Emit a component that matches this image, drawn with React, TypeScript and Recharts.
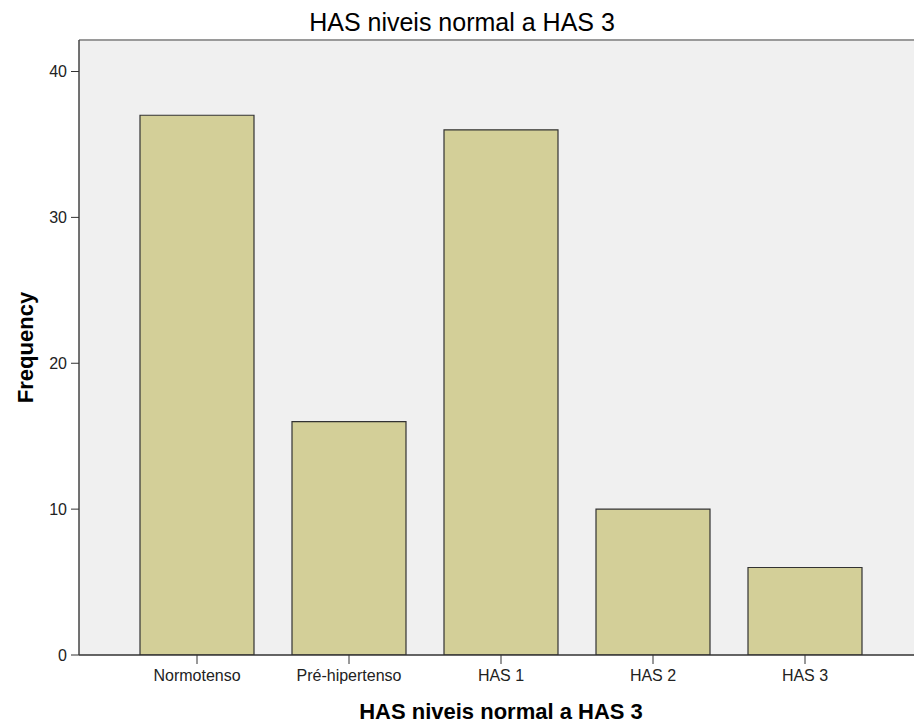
import { BarChart, Bar, XAxis, YAxis, CartesianGrid, ReferenceLine, Label } from 'recharts'

const categories = ['Normotenso', 'Pré-hipertenso', 'HAS 1', 'HAS 2', 'HAS 3']
const frequencies = [37, 16, 36, 10, 6]
const yTicks = [0, 10, 20, 30, 40]
const yMax = 42.16

const title = 'HAS niveis normal a HAS 3'
const xTitle = 'HAS niveis normal a HAS 3'
const yTitle = 'Frequency'

const data = categories.map((name, i) => ({ name, value: frequencies[i] }))

const font = '"Liberation Sans", Arial, sans-serif'

export default function App() {
  return (
    <div
      style={{
        position: 'absolute',
        left: 0,
        top: 0,
        width: 914,
        height: 724,
        overflow: 'hidden',
        background: '#fff',
        fontFamily: font,
      }}
    >
      <div
        style={{
          position: 'absolute',
          left: 0,
          top: 10,
          width: 924,
          textAlign: 'center',
          fontSize: 25,
          lineHeight: '25px',
          color: '#000',
        }}
      >
        {title}
      </div>
      <BarChart
        width={940}
        height={724}
        data={data}
        margin={{ top: 40, right: 17, bottom: 29, left: 0 }}
        barSize={114}
      >
        <CartesianGrid fill="#f0f0f0" stroke="none" horizontal={false} vertical={false} />
        <ReferenceLine y={yMax} stroke="#9a9a9a" strokeWidth={2} />
        <XAxis
          dataKey="name"
          height={40}
          padding={{ left: 42, right: 42 }}
          tickSize={9}
          tickMargin={6}
          axisLine={{ stroke: '#333', strokeWidth: 1.5 }}
          tickLine={{ stroke: '#333' }}
          tick={{ fill: '#222', fontSize: 16, fontFamily: font }}
        >
          <Label
            content={({ viewBox }: any) => (
              <text
                x={viewBox.x + viewBox.width / 2}
                y={719}
                textAnchor="middle"
                fontSize={22}
                fontWeight="bold"
                fontFamily={font}
                fill="#000"
              >
                {xTitle}
              </text>
            )}
          />
        </XAxis>
        <YAxis
          width={79}
          domain={[0, yMax]}
          ticks={yTicks}
          allowDataOverflow
          tickSize={8}
          tickMargin={4}
          axisLine={{ stroke: '#444', strokeWidth: 1.5 }}
          tickLine={{ stroke: '#333' }}
          tick={{ fill: '#222', fontSize: 16, fontFamily: font }}
        >
          <Label
            content={({ viewBox }: any) => {
              const cx = 25
              const cy = viewBox.y + viewBox.height / 2
              return (
                <text
                  x={cx}
                  y={cy}
                  dy="0.35em"
                  textAnchor="middle"
                  transform={`rotate(-90 ${cx} ${cy})`}
                  fontSize={22}
                  fontWeight="bold"
                  fontFamily={font}
                  fill="#000"
                >
                  {yTitle}
                </text>
              )
            }}
          />
        </YAxis>
        <Bar
          dataKey="value"
          fill="#d3cf98"
          stroke="#333"
          strokeWidth={1.2}
          isAnimationActive={false}
        />
      </BarChart>
    </div>
  )
}
